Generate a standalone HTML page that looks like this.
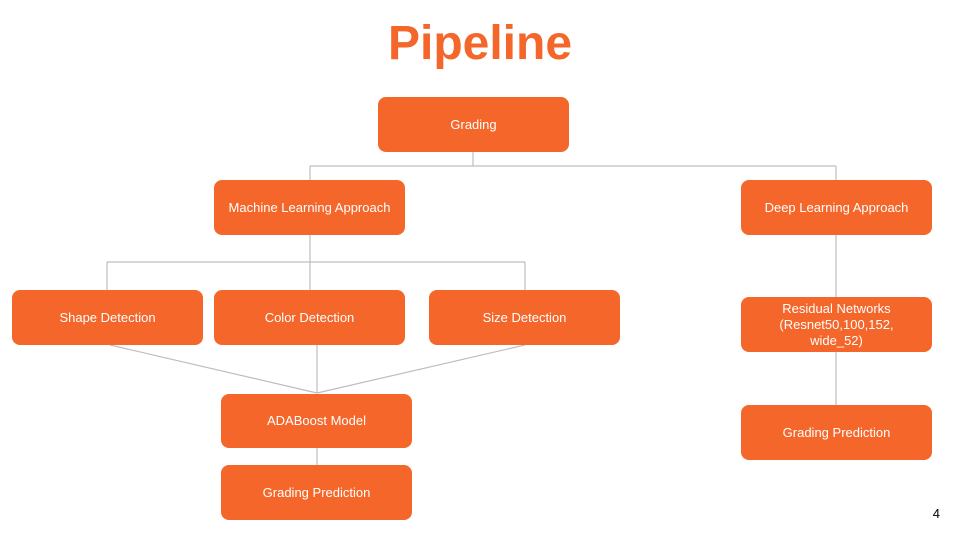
<!DOCTYPE html>
<html><head><style>
body{margin:0;width:960px;height:540px;background:#fff;position:relative;overflow:hidden;font-family:"Liberation Sans",sans-serif}
.t{position:absolute;left:0;width:960px;top:16px;text-align:center;color:#F4662A;font-weight:bold;font-size:48px}
.b{position:absolute;background:#F4662A;border-radius:8px;color:#fff;font-size:13px;display:flex;align-items:center;justify-content:center;text-align:center;line-height:16px;width:191px;height:55px}
.n{position:absolute;right:20px;top:506px;font-size:13px;color:#000}
svg{position:absolute;left:0;top:0}
</style></head><body>
<div class="t">Pipeline</div>
<svg width="960" height="540"><g stroke="#bdbdbd" stroke-width="1.2" fill="none">
<path d="M473 152V166M310 166H836M310 166V180M836 166V180"/>
<path d="M310 235V262M107 262H525M107 262V290M310 262V290M525 262V290"/>
<path d="M836 235V297M836 352V405"/>
<path d="M110 345L317 393M317 345V393M525 345L317 393M317 448V465"/>
</g></svg>
<div class="b" style="left:378px;top:97px">Grading</div>
<div class="b" style="left:214px;top:180px">Machine Learning Approach</div>
<div class="b" style="left:741px;top:180px">Deep Learning Approach</div>
<div class="b" style="left:12px;top:290px">Shape Detection</div>
<div class="b" style="left:214px;top:290px">Color Detection</div>
<div class="b" style="left:429px;top:290px">Size Detection</div>
<div class="b" style="left:741px;top:297px">Residual Networks<br>(Resnet50,100,152,<br>wide_52)</div>
<div class="b" style="left:741px;top:405px">Grading Prediction</div>
<div class="b" style="left:221px;top:394px;height:54px">ADABoost Model</div>
<div class="b" style="left:221px;top:465px">Grading Prediction</div>
<div class="n">4</div>
</body></html>
